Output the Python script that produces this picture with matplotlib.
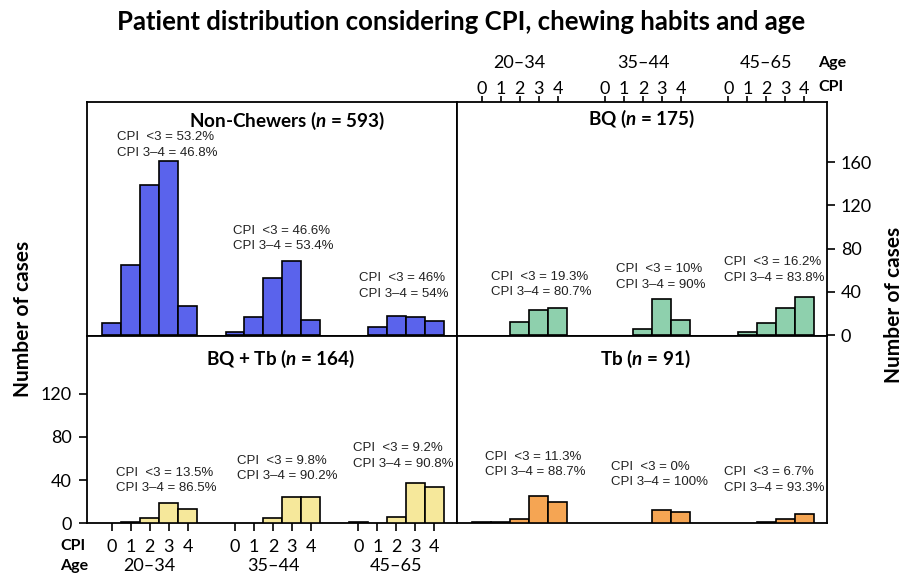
import matplotlib
matplotlib.use("Agg")
import matplotlib.pyplot as plt
import matplotlib.transforms as mtransforms

# ---------------- data ----------------
cpi_levels = [0, 1, 2, 3, 4]
age_groups = ["20–34", "35–44", "45–65"]

non_chewers = [[11, 65, 139, 161, 27], [3, 17, 53, 68, 14], [0, 7, 18, 17, 13]]
bq = [[0, 0, 12, 23, 25], [0, 0, 6, 33, 14], [0, 3, 11, 25, 35]]
bq_tb = [[0, 1, 5, 19, 13], [0, 0, 5, 24, 24], [1, 0, 6, 37, 34]]
tb = [[1, 1, 4, 25, 20], [0, 0, 0, 12, 10], [0, 0, 1, 4, 9]]

panel_titles = ["Non-Chewers ($n$ = 593)", "BQ ($n$ = 175)",
                "BQ + Tb ($n$ = 164)", "Tb ($n$ = 91)"]
pct_low = [["53.2", "46.6", "46"], ["19.3", "10", "16.2"],
           ["13.5", "9.8", "9.2"], ["11.3", "0", "6.7"]]
pct_high = [["46.8", "53.4", "54"], ["80.7", "90", "83.8"],
            ["86.5", "90.2", "90.8"], ["88.7", "100", "93.3"]]

colors = ["#5A63EC", "#8ED0AD", "#F6E89B", "#F5A553"]

# ---------------- style ----------------
plt.rcParams["font.family"] = ["Lato", "DejaVu Sans"]
plt.rcParams["mathtext.fontset"] = "custom"
plt.rcParams["mathtext.it"] = "Lato:bold:italic"
plt.rcParams["mathtext.rm"] = "Lato:bold"
plt.rcParams["mathtext.bf"] = "Lato:bold"

fig = plt.figure(figsize=(9.17, 5.76), dpi=100)

L, M, R = 87 / 917, 457 / 917, 827 / 917
T, C, B = 1 - 102 / 576, 1 - 336 / 576, 1 - 523.3 / 576

ax_tl = fig.add_axes([L, C, M - L, T - C])
ax_tr = fig.add_axes([M, C, R - M, T - C])
ax_bl = fig.add_axes([L, B, M - L, C - B])
ax_br = fig.add_axes([M, B, R - M, C - B])
axes = [ax_tl, ax_tr, ax_bl, ax_br]
datasets = [non_chewers, bq, bq_tb, tb]

group_gap = 6.5
positions = [[g * group_gap + c for c in cpi_levels] for g in range(3)]

# annotation positions (x in data units, y of first line)
ann_pos = [[(0.26, 183), (6.37, 96.6), (13.03, 52.5)],
           [(0.49, 54), (7.07, 60.8), (12.77, 67.3)],
           [(0.23, 46.9), (6.58, 58), (12.72, 69.4)],
           [(0.17, 61.7), (6.8, 52.4), (12.77, 47.2)]]
title_pos = [(0.54, 0.92), (0.50, 0.927), (0.524, 0.876), (0.51, 0.88)]

for i, (ax, data) in enumerate(zip(axes, datasets)):
    for g in range(3):
        xs = [x for x, v in zip(positions[g], data[g]) if v > 0]
        hs = [v for v in data[g] if v > 0]
        ax.bar(xs, hs, width=1.0, color=colors[i], edgecolor="black",
               linewidth=1.2, zorder=3)
        x0, y0 = ann_pos[i][g]
        ax.text(x0, y0, f"CPI  <3 = {pct_low[i][g]}%", fontsize=9.5,
                family="Liberation Sans", va="center", ha="left", color="#222222")
        ax.text(x0, y0 - 14.6, f"CPI 3–4 = {pct_high[i][g]}%", fontsize=9.5,
                family="Liberation Sans", va="center", ha="left", color="#222222")
    ax.text(title_pos[i][0], title_pos[i][1], panel_titles[i], transform=ax.transAxes,
            ha="center", va="center", fontsize=13.6, fontweight="bold")
    ax.set_xlim(-1.3, 18.2)
    if i < 2:
        ax.set_ylim(-0.9, 215.5)
    else:
        ax.set_ylim(0, 173.2)
    for sp in ax.spines.values():
        sp.set_linewidth(1.3)
    ax.set_xticks([])
    ax.set_yticks([])

all_pos = [p for grp in positions for p in grp]
tick_labels = [str(c) for _ in age_groups for c in cpi_levels]

# bottom-left axes: x ticks bottom, y ticks left
ax_bl.set_xticks(all_pos)
ax_bl.set_xticklabels(tick_labels)
ax_bl.set_yticks([0, 40, 80, 120])
ax_bl.tick_params(axis="both", direction="out", length=6, width=1.2,
                  labelsize=13, pad=5)

# top-right axes: x ticks top, y ticks right
ax_tr.xaxis.tick_top()
ax_tr.set_xticks(all_pos)
ax_tr.set_xticklabels(tick_labels)
ax_tr.yaxis.tick_right()
ax_tr.set_yticks([0, 40, 80, 120, 160])
ax_tr.tick_params(axis="x", direction="out", length=4, width=1.2,
                  labelsize=13, pad=-0.5)
ax_tr.tick_params(axis="y", direction="out", length=6, width=1.2,
                  labelsize=13, pad=4)

# age labels
tb_bl = mtransforms.blended_transform_factory(ax_bl.transData, fig.transFigure)
tb_tr = mtransforms.blended_transform_factory(ax_tr.transData, fig.transFigure)
for g, age in enumerate(age_groups):
    ax_bl.text(positions[g][2], 1 - 566 / 576, age, transform=tb_bl,
               ha="center", va="center", fontsize=13, clip_on=False)
    ax_tr.text(positions[g][2], 1 - 63 / 576, age, transform=tb_tr,
               ha="center", va="center", fontsize=13, clip_on=False)

fig.text(72.5 / 917, 1 - 546 / 576, "CPI", ha="center", va="center",
         fontsize=11.5, fontweight="bold")
fig.text(74 / 917, 1 - 566 / 576, "Age", ha="center", va="center",
         fontsize=11.5, fontweight="bold")
fig.text(818 / 917, 1 - 87 / 576, "CPI", ha="left", va="center",
         fontsize=11.5, fontweight="bold")
fig.text(818 / 917, 1 - 63 / 576, "Age", ha="left", va="center",
         fontsize=11.5, fontweight="bold")

# y labels
fig.text(23 / 917, 1 - 319 / 576, "Number of cases", rotation=90,
         ha="center", va="center", fontsize=15, fontweight="bold")
fig.text(894 / 917, 1 - 305 / 576, "Number of cases", rotation=90,
         ha="center", va="center", fontsize=15, fontweight="bold")

fig.suptitle("Patient distribution considering CPI, chewing habits and age",
             x=461 / 917, y=1 - 22 / 576, ha="center", va="center",
             fontsize=18.5, fontweight="bold")

fig.savefig("out.png", dpi=100)
